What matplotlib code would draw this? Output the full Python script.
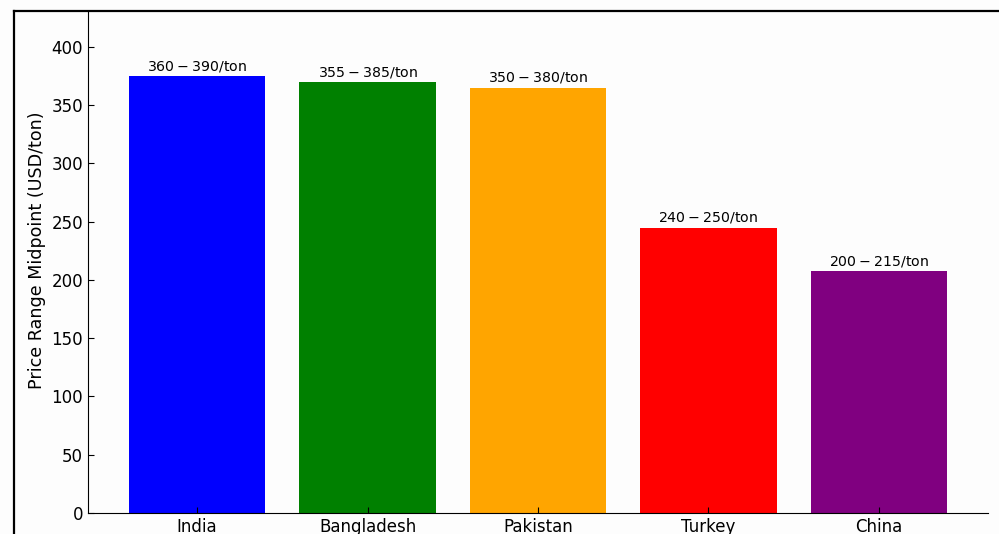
import numpy as np
import matplotlib
matplotlib.use('Agg')
import matplotlib.pyplot as plt
from matplotlib.lines import Line2D

countries = ['India', 'Bangladesh', 'Pakistan', 'Turkey', 'China']
low  = [360, 355, 350, 240, 200]
high = [390, 385, 380, 250, 215]
colors = ['blue', 'green', 'orange', 'red', 'purple']

mid = [(a + b) / 2 for a, b in zip(low, high)]

fig = plt.figure(figsize=(9.99, 5.34), dpi=100)
fig.patch.set_facecolor('#fdfdfd')
W, H = 999., 534.
ax = fig.add_axes([88/W, (H-513)/H, 900/W, (513-10.5)/H])
ax.set_facecolor('#fdfdfd')

x = np.arange(len(countries))
bars = ax.bar(x, mid, color=colors, width=0.8)
for b, lo, hi in zip(bars, low, high):
    ax.text(b.get_x() + b.get_width()/2, b.get_height() + 2,
            '$%d-%d$/ton' % (lo, hi), ha='center', va='bottom', fontsize=10.2)

ax.set_ylim(0, max(mid)*1.15)
ax.set_xticks(x)
ax.set_xticklabels(countries, fontsize=12)
ax.tick_params(axis='y', labelsize=12)
ax.tick_params(direction='in', length=4)
ax.set_ylabel('Price Range Midpoint (USD/ton)', fontsize=12.6)
ax.yaxis.label.set_y(0.523)
ax.spines['top'].set_visible(False)
ax.spines['right'].set_visible(False)

# border of the screenshot
fig.add_artist(Line2D([14/W, 1], [1-10.5/H, 1-10.5/H], color='black', lw=1.6,
                      transform=fig.transFigure))
fig.add_artist(Line2D([14/W, 14/W], [0, 1-10.5/H], color='black', lw=1.6,
                      transform=fig.transFigure))

fig.savefig('out.png', dpi=100, facecolor=fig.get_facecolor())
